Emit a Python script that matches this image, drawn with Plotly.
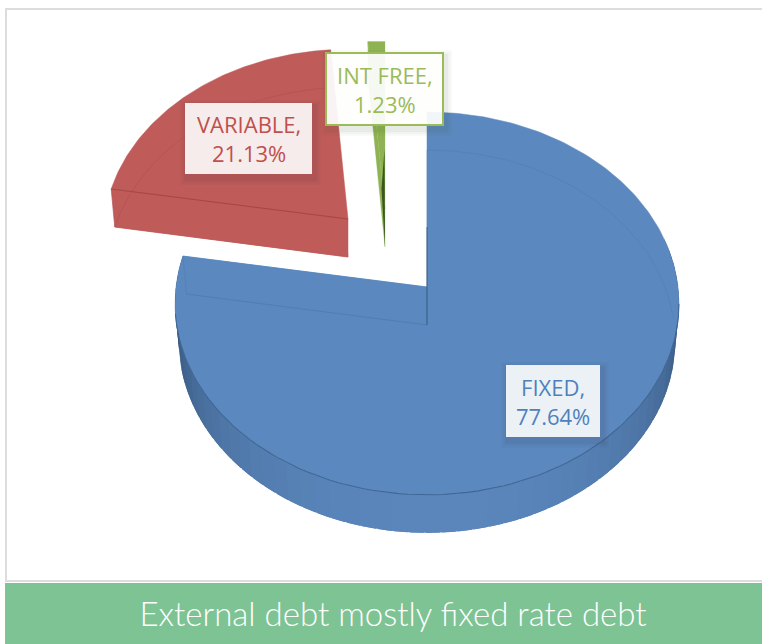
import math
import plotly.graph_objects as go

# ---- data ----
names = ["FIXED", "VARIABLE", "INT FREE"]
values = [77.64, 21.13, 1.23]
colors = ["#5b89bf", "#bf5b59", "#8fb352"]
edge_colors = ["#4a74a8", "#a84a48", "#7a9c44"]
text_colors = ["#4f81bd", "#c0504d", "#9bbb59"]
title_text = "External debt mostly fixed rate debt"

# ---- perspective projection of the tilted pie (pixels) ----
W, H = 762, 644
RX, RY, PERSP = 251, 190, 0.086
DEPTH = 38
BOTTOM_X = 0.985
# apex of each exploded slice and its perspective scale
apex = [(427, 287), (348, 219), (385, 209)]
scale = [1.0, 0.97, 0.96]

total = sum(values)
starts, ends = [], []
acc = 0.0
for v in values:
    starts.append(acc / total * 360)
    acc += v
    ends.append(acc / total * 360)


def pt(i, deg, bottom=False):
    a = math.radians(deg)
    s, c = math.sin(a), math.cos(a)
    ax, ay = apex[i]
    f = scale[i] / (1 + PERSP * c)
    x = ax + RX * f * s * (BOTTOM_X if bottom else 1)
    y = ay - RY * f * c + (DEPTH if bottom else 0)
    return x, y


def arc(i, d0, d1, bottom=False, n=90):
    return [pt(i, d0 + (d1 - d0) * j / n, bottom) for j in range(n + 1)]


def ap(i, bottom=False):
    return (apex[i][0], apex[i][1] + (DEPTH if bottom else 0))


def blend(c1, c2, t):
    p = [int(c1[k:k + 2], 16) for k in (1, 3, 5)]
    q = [int(c2[k:k + 2], 16) for k in (1, 3, 5)]
    return "rgb(%d,%d,%d)" % tuple(round(a + (b - a) * t) for a, b in zip(p, q))


fig = go.Figure()


def poly(points, fill, name, line=None, width=0):
    fig.add_trace(go.Scatter(
        x=[p[0] for p in points] + [points[0][0]],
        y=[p[1] for p in points] + [points[0][1]],
        mode="lines", fill="toself", fillcolor=fill,
        line=dict(color=line or fill, width=width),
        name=name, hoverinfo="name", showlegend=False))


def path(points, color, width=1, name="", opacity=1.0):
    fig.add_trace(go.Scatter(
        x=[p[0] for p in points], y=[p[1] for p in points],
        mode="lines", line=dict(color=color, width=width), opacity=opacity,
        name=name, hoverinfo="skip", showlegend=False))


# --- FIXED ---
i = 0
e = ends[i]
strips = 60
a0, a1 = 75, e
for j in range(strips):
    d0 = a0 + (a1 - a0) * j / strips
    d1 = min(a0 + (a1 - a0) * (j + 1) / strips + 3, a1)
    off = min(abs((d0 + d1) / 2 - 180) / 100, 1)
    col = blend("#5a86bc", "#26405f", off ** 2.2)
    q = arc(i, d0, d1, n=3) + arc(i, d1, d0, True, n=3)
    poly(q, col, names[i])
poly([ap(i), pt(i, e), pt(i, e, True), ap(i, True)], colors[i], names[i], line=colors[i], width=0.5)
poly([ap(i)] + arc(i, 0, e, n=240), colors[i], names[i], line=colors[i], width=0.5)
path(arc(i, 95, 262), "#3f6695", 1.1, names[i])
path(arc(i, 0, 88, True), edge_colors[i], 0.8, names[i], 0.4)
path([ap(i, True), pt(i, e, True)], edge_colors[i], 0.9, names[i], 0.6)
path([pt(i, e), pt(i, e, True)], edge_colors[i], 0.8, names[i], 0.4)
path([pt(i, 0, True), ap(i, True)], edge_colors[i], 0.8, names[i], 0.4)
path([(ap(i)[0], ap(i)[1] - 60), (ap(i)[0], ap(i, True)[1])], "#2f4a6b", 1.1, names[i], 0.6)

# --- VARIABLE ---
i = 1
s, e = starts[i], ends[i]
poly([ap(i, True)] + arc(i, s, e, True), colors[i], names[i], line=colors[i], width=0.5)
poly([ap(i), pt(i, s), pt(i, s, True), ap(i, True)], colors[i], names[i], line=colors[i], width=0.5)
poly([ap(i)] + arc(i, s, e), colors[i], names[i], line=colors[i], width=0.5)
path([pt(i, s), ap(i)], "#a44846", 1, names[i])
path(arc(i, s, e, True), edge_colors[i], 0.8, names[i], 0.45)
path([pt(i, s), pt(i, s, True)], edge_colors[i], 0.8, names[i], 0.4)

# --- INT FREE ---
i = 2
s, e = starts[i], ends[i]
poly([ap(i), pt(i, s), pt(i, s, True), ap(i, True)], colors[i], names[i], line=colors[i], width=0.3)
poly([ap(i), pt(i, s), (ap(i)[0], pt(i, s)[1])], colors[i], names[i], line=colors[i], width=0.3)
poly([ap(i, True), (ap(i)[0] - 3.5, ap(i)[1] - 20), (ap(i)[0] - 0.5, ap(i)[1] - 60)], "#3c5522", names[i])

# --- frame + band ---
shapes = [
    dict(type="rect", xref="x", yref="y", x0=6, x1=W + 5, y0=9, y1=581,
         line=dict(color="#dddddd", width=2), fillcolor="white", layer="below"),
    dict(type="rect", xref="x", yref="y", x0=5, x1=W, y0=583, y1=H,
         line=dict(width=0), fillcolor="#7ec394", layer="below"),
]

# --- data labels ---
boxes = [(506, 600, 365, 437, False), (185, 312, 103, 174, False), (326, 443, 53, 125, True)]
bg = ["rgba(255,255,255,0.89)", "rgba(255,255,255,0.89)", "rgba(255,255,255,0.93)"]
anns = []
for k, (x0, x1, y0, y1, bordered) in enumerate(boxes):
    for grow, alpha in ((7, 0.03), (5, 0.04), (3, 0.05)):
        shade = "rgba(60,80,40,%s)" % alpha if bordered else "rgba(50,40,60,%s)" % alpha
        shapes.append(dict(type="rect", xref="x", yref="y",
                           x0=x0 - grow + 2, x1=x1 + grow + 2, y0=y0 - grow + 4, y1=y1 + grow + 4,
                           line=dict(width=0), fillcolor=shade, layer="above"))
    shapes.append(dict(type="rect", xref="x", yref="y", x0=x0, x1=x1, y0=y0, y1=y1,
                       line=dict(width=2 if bordered else 0, color=text_colors[k]),
                       fillcolor=bg[k], layer="above"))
    anns.append(dict(x=(x0 + x1) / 2, y=(y0 + y1) / 2, xref="x", yref="y",
                     text=f"{names[k]},<br>{values[k]:.2f}%", showarrow=False,
                     font=dict(family="Open Sans", size=22, color=text_colors[k]),
                     align="center", xanchor="center", yanchor="middle"))

fig.update_layout(
    width=W, height=H, autosize=False,
    margin=dict(l=0, r=0, t=0, b=0),
    paper_bgcolor="white", plot_bgcolor="white",
    showlegend=False,
    xaxis=dict(range=[0, W], visible=False, fixedrange=True),
    yaxis=dict(range=[H, 0], visible=False, fixedrange=True),
    shapes=shapes, annotations=anns,
    title=dict(text=title_text, x=393 / W, xanchor="center", y=1 - 614 / H, yanchor="middle",
               font=dict(family="Lato", size=33, color="white", weight=300)),
)
fig.write_html("out.html", config=dict(displayModeBar=False),
               post_script="document.body.style.margin='0';document.documentElement.style.overflow='hidden';")
